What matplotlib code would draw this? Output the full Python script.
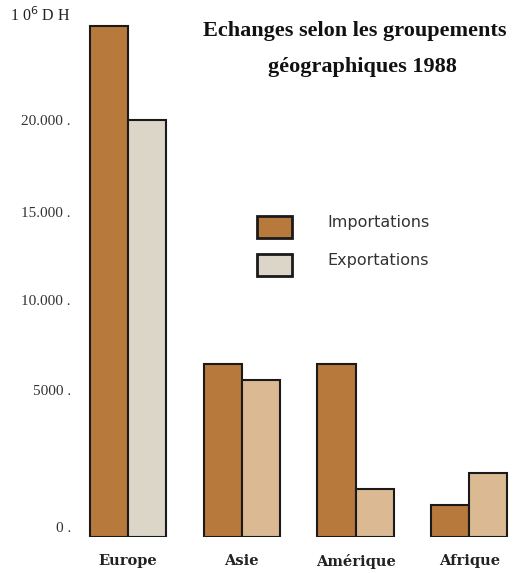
import numpy as np
import matplotlib.pyplot as plt
from matplotlib.patches import Rectangle

regions = ["Europe", "Asie", "Amérique", "Afrique"]
importations = [24500, 8300, 8300, 1530]
exportations = [20000, 7530, 2300, 3070]
export_colors = ["#dcd6c8", "#dbb993", "#dbb993", "#dbb993"]
ytick_values = [480, 7050, 11370, 15590, 20000]
ytick_labels = ["0 .", "5000 .", "10.000 .", "15.000 .", "20.000 ."]

fig = plt.figure(figsize=(5.16, 5.73), dpi=100)
ax = fig.add_axes([75 / 516, 36 / 573, 441 / 516, 522 / 573])

x = np.arange(len(regions))
w = 0.335
ax.bar(x - w / 2, importations, width=w, color="#b8793d", edgecolor="#1a1a1a", linewidth=1.5)
ax.bar(x + w / 2, exportations, width=w, color=export_colors, edgecolor="#1a1a1a", linewidth=1.5)

ax.set_xlim(-0.466, 3.41)
ax.set_ylim(0, 25036)
for s in ax.spines.values():
    s.set_visible(False)

ax.set_yticks(ytick_values)
ax.set_yticklabels(ytick_labels, family="Liberation Serif", fontsize=11, color="#333333")
ax.set_xticks(x)
ax.set_xticklabels(regions, family="DejaVu Serif", fontsize=10.5, fontweight="semibold",
                   color="#222222")
ax.tick_params(length=0)
ax.tick_params(axis="y", pad=3)
ax.tick_params(axis="x", pad=12)

fig.text(10 / 516, 1 - 16 / 573, r"1 0$^6$ D H", family="Liberation Serif", fontsize=11.5,
         color="#222222", va="center")

fig.text(203 / 516, 1 - 31 / 573, "Echanges selon les groupements", family="Liberation Serif",
         fontsize=16, fontweight="bold", va="center", color="#111111")
fig.text(362 / 516, 1 - 67 / 573, "géographiques 1988", family="Liberation Serif",
         fontsize=16, fontweight="bold", va="center", ha="center", color="#111111")

# legend
leg_items = [("Importations", "#b8793d", 227), ("Exportations", "#dcd6c8", 265)]
for label, col, yc in leg_items:
    fig.patches.append(Rectangle((257 / 516, 1 - (yc + 11) / 573), 35 / 516, 22 / 573,
                                 transform=fig.transFigure, facecolor=col,
                                 edgecolor="#1a1a1a", linewidth=2))
    fig.text(327 / 516, 1 - (yc - 5) / 573, label, family="DejaVu Sans", fontsize=11.5,
             va="center", color="#333333")

fig.savefig("out.png", dpi=100)
